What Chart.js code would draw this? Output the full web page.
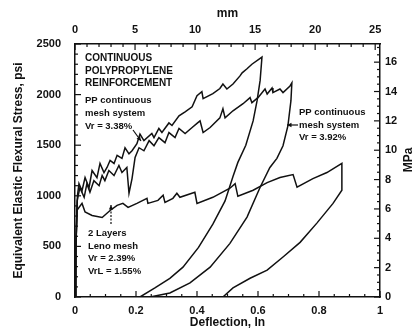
<!DOCTYPE html>
<html>
<head>
<meta charset="utf-8">
<script src="https://cdn.jsdelivr.net/npm/chart.js@4.4.1/dist/chart.umd.min.js"></script>
<style>
  body { margin: 0; background: #fff; }
  #wrap { width: 416px; height: 334px; }
</style>
</head>
<body>
<div id="wrap"><canvas id="flexChart"></canvas></div>
<script>
// PP continuous mesh, Vr = 3.38% (deflection in, stress psi) - load then unload
const defA = [0, 0.004, 0.008, 0.013, 0.023, 0.033, 0.046, 0.056, 0.072, 0.082, 0.095, 0.105, 0.115, 0.128, 0.138, 0.154, 0.164, 0.177, 0.187, 0.203, 0.213, 0.226, 0.252, 0.259, 0.275, 0.285, 0.308, 0.318, 0.341, 0.361, 0.384, 0.400, 0.416, 0.420, 0.452, 0.475, 0.485, 0.498, 0.518, 0.541, 0.548, 0.564, 0.580, 0.613,
              0.607, 0.597, 0.584, 0.560, 0.534, 0.518, 0.492, 0.452, 0.405, 0.354, 0.311, 0.262, 0.213];
const stressA = [0, 600, 1000, 1120, 1050, 1180, 1080, 1250, 1180, 1320, 1230, 1280, 1350, 1320, 1400, 1370, 1475, 1415, 1445, 1515, 1610, 1545, 1615, 1575, 1665, 1625, 1720, 1695, 1790, 1830, 1880, 1990, 2030, 1960, 2010, 2060, 2105, 2055, 2105, 2185, 2215, 2255, 2300, 2370,
                 2140, 1940, 1740, 1500, 1330, 1190, 950, 720, 490, 295, 185, 90, 0];

// PP continuous mesh, Vr = 3.92%
const defB = [0, 0.003, 0.007, 0.016, 0.030, 0.039, 0.049, 0.062, 0.079, 0.089, 0.098, 0.111, 0.128, 0.144, 0.154, 0.170, 0.177, 0.187, 0.197, 0.210, 0.226, 0.243, 0.259, 0.275, 0.295, 0.308, 0.328, 0.341, 0.361, 0.384, 0.400, 0.410, 0.420, 0.443, 0.475, 0.485, 0.492, 0.518, 0.551, 0.574, 0.580, 0.600, 0.623, 0.630, 0.646, 0.649, 0.672, 0.682, 0.705, 0.711,
              0.708, 0.698, 0.682, 0.662, 0.639, 0.607, 0.564, 0.508, 0.443, 0.377, 0.311, 0.246];
const stressB = [0, 500, 950, 1080, 985, 1120, 1035, 1150, 1100, 1200, 1150, 1250, 1200, 1300, 1230, 1280, 1025, 1170, 1380, 1475, 1445, 1545, 1495, 1575, 1525, 1625, 1575, 1665, 1615, 1675, 1715, 1740, 1625, 1675, 1770, 1860, 1770, 1840, 1910, 1970, 1920, 1970, 2055, 2005, 2065, 2020, 2055, 2020, 2085, 2115,
                 1940, 1690, 1495, 1370, 1280, 1085, 790, 530, 295, 140, 40, 0];

// 2 layers Leno mesh, Vr = 2.39%
const defC = [0, 0.003, 0.007, 0.023, 0.033, 0.056, 0.089, 0.115, 0.138, 0.157, 0.174, 0.203, 0.236, 0.239, 0.272, 0.289, 0.295, 0.321, 0.334, 0.344, 0.393, 0.400, 0.452, 0.508, 0.525, 0.534, 0.584, 0.630, 0.672, 0.715, 0.728, 0.780, 0.826, 0.875,
              0.875, 0.846, 0.793, 0.738, 0.682, 0.630, 0.574, 0.518, 0.485];
const stressC = [0, 500, 860, 925, 840, 805, 785, 855, 905, 925, 885, 925, 975, 925, 955, 1005, 935, 975, 1025, 985, 1035, 925, 985, 1075, 1120, 995, 1055, 1130, 1180, 1210, 1085, 1170, 1230, 1320,
                 1055, 925, 730, 540, 395, 265, 185, 90, 0];

// axis tick labels
const inTicks = [0, 0.2, 0.4, 0.6, 0.8, 1];
const psiTicks = [0, 500, 1000, 1500, 2000, 2500];
const mmTicks = [0, 5, 10, 15, 20, 25];
const mpaTicks = [0, 2, 4, 6, 8, 10, 12, 14, 16];

const PSI_TO_MPA = 0.00689476;
const IN_TO_MM = 25.4;
const ink = '#111';
const family = '"Liberation Sans", Arial, sans-serif';

function pts(xs, ys) {
    return xs.map((x, i) => ({ x: x, y: ys[i] }));
}

function fixTicks(list) {
    return function (scale) {
        scale.ticks = list.map(v => ({ value: v }));
    };
}

// short ticks pointing into the plot, on all four sides
const inwardTicks = {
    id: 'inwardTicks',
    afterDraw(chart) {
        const ctx = chart.ctx;
        const a = chart.chartArea;
        const s = chart.scales;
        ctx.save();
        ctx.strokeStyle = ink;
        ctx.lineWidth = 1.2;

        function run(scale, step, max, every, side) {
            for (let i = 0; i * step <= max + 1e-9; i++) {
                const len = (i % every === 0) ? 6 : 3;
                const p = scale.getPixelForValue(i * step);
                ctx.beginPath();
                if (side === 'bottom') { ctx.moveTo(p, a.bottom); ctx.lineTo(p, a.bottom - len); }
                if (side === 'top') { ctx.moveTo(p, a.top); ctx.lineTo(p, a.top + len); }
                if (side === 'left') { ctx.moveTo(a.left, p); ctx.lineTo(a.left + len, p); }
                if (side === 'right') { ctx.moveTo(a.right, p); ctx.lineTo(a.right - len, p); }
                ctx.stroke();
            }
        }
        run(s.x, 0.05, 1, 4, 'bottom');
        run(s.x2, 1, 25.4, 5, 'top');
        run(s.y, 100, 2500, 5, 'left');
        run(s.y2, 0.5, 2500 * PSI_TO_MPA, 4, 'right');

        // right axis title, read bottom to top
        ctx.fillStyle = ink;
        ctx.font = 'bold 12px ' + family;
        ctx.textAlign = 'center';
        ctx.textBaseline = 'middle';
        ctx.translate(409, 160);
        ctx.rotate(-Math.PI / 2);
        ctx.fillText('MPa', 0, 0);
        ctx.restore();
    }
};

// notes and arrows inside the plot
const notes = {
    id: 'notes',
    afterDatasetsDraw(chart) {
        const ctx = chart.ctx;
        ctx.save();
        ctx.fillStyle = ink;
        ctx.strokeStyle = ink;
        ctx.textBaseline = 'middle';
        ctx.textAlign = 'left';

        ctx.font = 'bold 10px ' + family;
        ctx.fillText('CONTINUOUS', 85, 58);
        ctx.fillText('POLYPROPYLENE', 85, 71);
        ctx.fillText('REINFORCEMENT', 85, 83);

        ctx.font = 'bold 9.5px ' + family;
        ctx.fillText('PP continuous', 85, 100);
        ctx.fillText('mesh system', 85, 113);
        ctx.fillText('Vr = 3.38%', 85, 126);

        ctx.fillText('PP continuous', 299, 112);
        ctx.fillText('mesh system', 299, 125);
        ctx.fillText('Vr = 3.92%', 299, 137);

        ctx.fillText('2 Layers', 88, 233);
        ctx.fillText('Leno mesh', 88, 246);
        ctx.fillText('Vr = 2.39%', 88, 258);
        ctx.fillText('VrL = 1.55%', 88, 271);

        function arrow(x1, y1, x2, y2, dashed) {
            const ang = Math.atan2(y2 - y1, x2 - x1);
            ctx.lineWidth = 1.2;
            ctx.setLineDash(dashed ? [2, 1.5] : []);
            ctx.beginPath();
            ctx.moveTo(x1, y1);
            ctx.lineTo(x2, y2);
            ctx.stroke();
            ctx.setLineDash([]);
            ctx.beginPath();
            ctx.moveTo(x2, y2);
            ctx.lineTo(x2 - 5 * Math.cos(ang - 0.45), y2 - 5 * Math.sin(ang - 0.45));
            ctx.lineTo(x2 - 5 * Math.cos(ang + 0.45), y2 - 5 * Math.sin(ang + 0.45));
            ctx.closePath();
            ctx.fill();
        }
        arrow(133, 130, 141, 141, false);
        arrow(298, 125, 287, 125, false);
        arrow(111, 224, 111, 205, true);
        ctx.restore();
    }
};

const line = { showLine: true, pointRadius: 0, borderColor: ink, borderWidth: 1.5, tension: 0, fill: false };

const flexChart = new Chart(document.getElementById('flexChart'), {
    type: 'scatter',
    data: {
        datasets: [
            Object.assign({ label: 'Vr = 3.38%', data: pts(defA, stressA) }, line),
            Object.assign({ label: 'Vr = 3.92%', data: pts(defB, stressB) }, line),
            Object.assign({ label: 'Leno Vr = 2.39%', data: pts(defC, stressC) }, line)
        ]
    },
    options: {
        responsive: true,
        maintainAspectRatio: false,
        animation: false,
        layout: { padding: 0 },
        plugins: {
            legend: { display: false },
            tooltip: { enabled: false }
        },
        scales: {
            x: {
                type: 'linear', position: 'bottom', min: 0, max: 1,
                afterBuildTicks: fixTicks(inTicks),
                afterFit: s => { s.height = 37; },
                grid: { display: false, drawTicks: false },
                border: { color: ink, width: 1.5 },
                ticks: { color: ink, font: { family: family, size: 11, weight: 'bold' }, padding: 7, maxRotation: 0,
                         callback: v => String(v) },
                title: { display: true, text: 'Deflection, In', color: ink,
                         font: { family: family, size: 12, weight: 'bold' }, padding: { top: 0, bottom: 4 } }
            },
            x2: {
                type: 'linear', position: 'top', min: 0, max: 1 * IN_TO_MM,
                afterBuildTicks: fixTicks(mmTicks),
                afterFit: s => { s.height = 44; },
                grid: { display: false, drawTicks: false },
                border: { color: ink, width: 1.5 },
                ticks: { color: ink, font: { family: family, size: 11, weight: 'bold' }, padding: 7, maxRotation: 0,
                         callback: v => String(v) },
                title: { display: true, text: 'mm', color: ink,
                         font: { family: family, size: 12, weight: 'bold' }, padding: { top: 6, bottom: 0 } }
            },
            y: {
                type: 'linear', position: 'left', min: 0, max: 2500,
                afterBuildTicks: fixTicks(psiTicks),
                afterFit: s => { s.width = 75; },
                grid: { display: false, drawTicks: false },
                border: { color: ink, width: 1.5 },
                ticks: { color: ink, font: { family: family, size: 11, weight: 'bold' }, padding: 14,
                         callback: v => String(v) },
                title: { display: true, text: 'Equivalent Elastic Flexural Stress, psi', color: ink,
                         font: { family: family, size: 12, weight: 'bold' }, padding: { top: 11, bottom: 0 } }
            },
            y2: {
                type: 'linear', position: 'right', min: 0, max: 2500 * PSI_TO_MPA,
                afterBuildTicks: fixTicks(mpaTicks),
                afterFit: s => { s.width = 36; },
                grid: { display: false, drawTicks: false },
                border: { color: ink, width: 1.5 },
                ticks: { color: ink, font: { family: family, size: 11, weight: 'bold' }, padding: 5,
                         callback: v => String(v) }
            }
        }
    },
    plugins: [notes, inwardTicks]
});
</script>
</body>
</html>
